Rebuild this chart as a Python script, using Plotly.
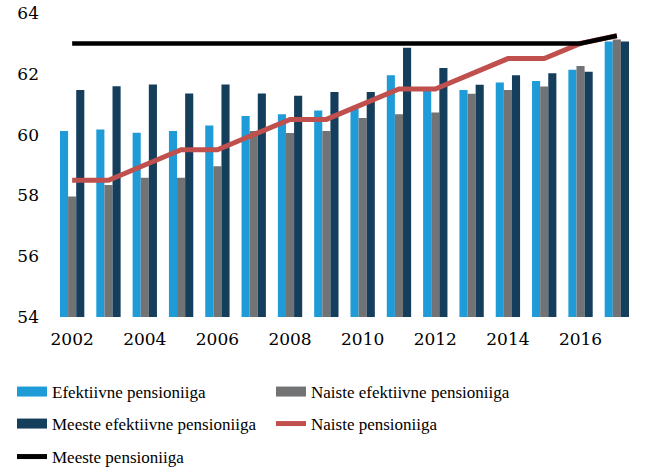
import plotly.graph_objects as go

years = list(range(2002, 2018))
efektiivne = [60.12, 60.17, 60.06, 60.12, 60.30, 60.61, 60.67, 60.79, 60.85, 61.95, 61.45, 61.47, 61.71, 61.76, 62.13, 63.06]
naiste_ef = [57.96, 58.34, 58.58, 58.58, 58.96, 60.12, 60.05, 60.12, 60.55, 60.67, 60.73, 61.34, 61.47, 61.58, 62.26, 63.13]
meeste_ef = [61.47, 61.59, 61.65, 61.35, 61.65, 61.35, 61.28, 61.40, 61.40, 62.86, 62.19, 61.64, 61.95, 62.02, 62.07, 63.06]
naiste_pens = [58.5, 58.5, 59.0, 59.5, 59.5, 60.0, 60.5, 60.5, 61.0, 61.5, 61.5, 62.0, 62.5, 62.5, 63.0, 63.25]
meeste_pens = [63.0] * 15 + [63.25]
xticks = [2002, 2004, 2006, 2008, 2010, 2012, 2014, 2016]
yticks = [54, 56, 58, 60, 62, 64]

names = ["Efektiivne pensioniiga", "Naiste efektiivne pensioniiga", "Meeste efektiivne pensioniiga",
         "Naiste pensioniiga", "Meeste pensioniiga"]
c_lb, c_gr, c_dk, c_red, c_blk = "#1f9bd8", "#727375", "#153d5c", "#c0504d", "#000000"

fig = go.Figure()
for vals, col in [(efektiivne, c_lb), (naiste_ef, c_gr), (meeste_ef, c_dk)]:
    fig.add_bar(x=years, y=vals, marker=dict(color=col, line=dict(width=0)), showlegend=False)
fig.add_scatter(x=years, y=naiste_pens, mode="lines", line=dict(color=c_red, width=5), showlegend=False)
fig.add_scatter(x=years, y=meeste_pens, mode="lines", line=dict(color=c_blk, width=4.5), showlegend=False)

# legend entries, one legend per entry so they sit in a 2-column grid
leg_specs = [
    (names[0], c_lb, 12, "legend", 12, 392),
    (names[1], c_gr, 12, "legend2", 271, 392),
    (names[2], c_dk, 12, "legend3", 12, 424),
    (names[3], c_red, 5, "legend4", 271, 424),
    (names[4], c_blk, 5, "legend5", 12, 457),
]
W, H = 668, 469
legend_layout = {}
for name, col, lw, lg, dx, ypx in leg_specs:
    fig.add_scatter(x=[None], y=[None], mode="lines", name=name, line=dict(color=col, width=lw),
                    legend=lg, showlegend=True)
    legend_layout[lg] = dict(xref="container", yref="container", x=dx / W, y=1 - ypx / H,
                             xanchor="left", yanchor="middle", orientation="v",
                             font=dict(family="Liberation Serif", size=17, color="#000"),
                             bgcolor="rgba(0,0,0,0)")

fig.update_layout(
    width=W, height=H,
    margin=dict(l=54, r=33, t=13, b=152, autoexpand=False),
    paper_bgcolor="white", plot_bgcolor="white",
    barmode="group", bargap=0.33, bargroupgap=0,
    xaxis=dict(range=[2001.5, 2017.5], tickvals=xticks, ticktext=[str(v) for v in xticks],
               showgrid=False, zeroline=False, showline=False, ticks="",
               ticklabelstandoff=10, tickangle=0,
               tickfont=dict(family="DejaVu Serif", size=17, color="#000")),
    yaxis=dict(range=[54, 64], tickvals=yticks, showgrid=False, zeroline=False, showline=False,
               ticks="", ticklabelstandoff=14,
               tickfont=dict(family="DejaVu Serif", size=17, color="#000")),
    **legend_layout,
)
fig.write_html("out.html", config={"displayModeBar": False},
               post_script="document.body.style.margin='0';")
